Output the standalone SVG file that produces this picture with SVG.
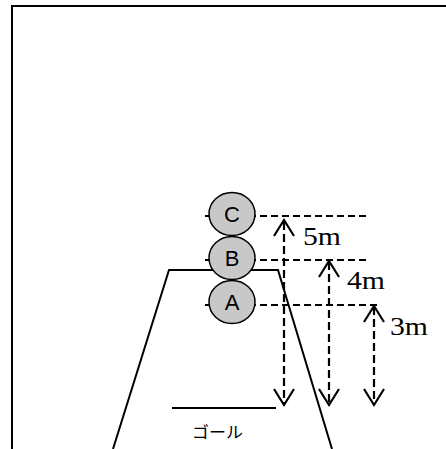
<svg xmlns="http://www.w3.org/2000/svg" width="446" height="449" viewBox="0 0 446 449">
<style>
.frame{fill:none;stroke:#000;stroke-width:2}
.solid{fill:none;stroke:#000;stroke-width:2}
.dash{fill:none;stroke:#000;stroke-width:1.8;stroke-dasharray:7,4}
.vdash{fill:none;stroke:#000;stroke-width:2.2;stroke-dasharray:8,4}
.head{fill:none;stroke:#000;stroke-width:2.2;stroke-linejoin:miter}
.ball{fill:#c8c8c8;stroke:#000;stroke-width:1.5}
.bl{font-family:"Liberation Sans",Arial,sans-serif;font-size:22px;text-anchor:middle}
.m{font-family:"Liberation Serif","Noto Serif CJK JP",serif;font-size:25px}
.goal{font-family:"Noto Sans CJK JP",sans-serif;font-size:16px}
</style>
<rect width="446" height="449" fill="#fff"/>
<path class="frame" d="M12,449 V6 H446"/>
<g id="field">
<path class="solid" d="M113,449 L169,270 H278 L332,449"/>
<line class="solid" x1="172" y1="408" x2="276" y2="408"/>
<text class="goal" x="192" y="438" textLength="51" lengthAdjust="spacingAndGlyphs">ゴール</text>
</g>
<g id="connectors">
<line class="dash" x1="205" y1="216" x2="370" y2="216"/>
<line class="dash" x1="205" y1="260" x2="370" y2="260"/>
<line class="dash" x1="205" y1="305" x2="378" y2="305"/>
<line class="vdash" x1="284" y1="222" x2="284" y2="403"/>
<line class="vdash" x1="329" y1="262" x2="329" y2="403"/>
<line class="vdash" x1="374" y1="307" x2="374" y2="403"/>
<path class="head" d="M274,236 L284,220 L294,236"/>
<path class="head" d="M274,389 L284,405 L294,389"/>
<path class="head" d="M319,277 L329,261 L339,277"/>
<path class="head" d="M319,389 L329,405 L339,389"/>
<path class="head" d="M364,322 L374,306 L384,322"/>
<path class="head" d="M364,389 L374,405 L384,389"/>
</g>
<g id="labels">
<text class="m" x="303" y="245" textLength="38" lengthAdjust="spacingAndGlyphs">5m</text>
<text class="m" x="347" y="289" textLength="38" lengthAdjust="spacingAndGlyphs">4m</text>
<text class="m" x="390" y="335" textLength="38" lengthAdjust="spacingAndGlyphs">3m</text>
</g>
<g id="ballC"><ellipse class="ball" cx="232" cy="214" rx="23" ry="21.5"/><text class="bl" x="232" y="222">C</text></g>
<g id="ballB"><ellipse class="ball" cx="232" cy="258" rx="23" ry="21.5"/><text class="bl" x="232" y="266">B</text></g>
<g id="ballA"><ellipse class="ball" cx="232" cy="302" rx="23" ry="21.5"/><text class="bl" x="232" y="310">A</text></g>
</svg>
